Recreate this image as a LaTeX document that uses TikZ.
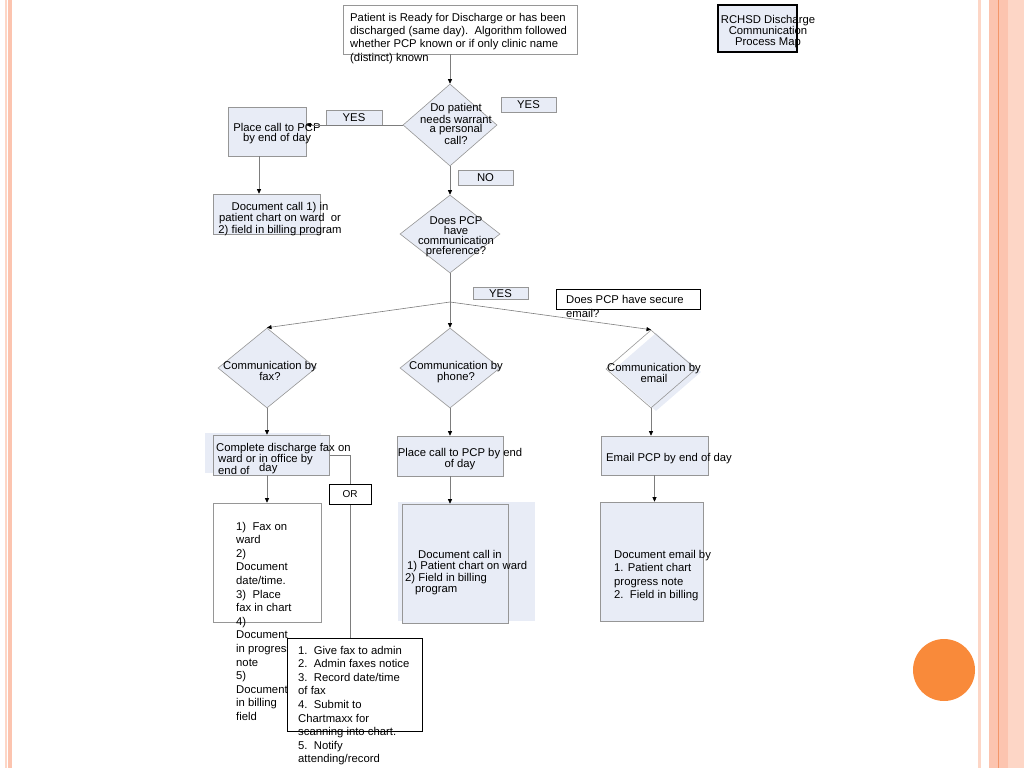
\documentclass[tikz,border=0pt]{standalone}
\usepackage{fontspec}
\setmainfont{Liberation Sans}
\usetikzlibrary{arrows.meta,shapes.geometric,backgrounds}
\definecolor{boxfill}{RGB}{232,236,246}
\definecolor{boxline}{RGB}{150,150,150}
\definecolor{flowline}{RGB}{125,125,125}
\definecolor{stripe}{RGB}{252,196,175}
\definecolor{stripelight}{RGB}{253,214,198}
\definecolor{stripeline}{RGB}{243,150,105}
\definecolor{dotorange}{RGB}{249,138,58}
\newcommand{\fsz}[1]{\fontsize{11.3}{#1}\selectfont}
\tikzstyle{arrow} = [line width=0.6pt,draw=flowline,-{Triangle[length=4.5pt,width=4pt,color=black]}]
\tikzstyle{link} = [line width=0.6pt,draw=flowline]
\tikzstyle{box} = [draw=boxline,fill=boxfill,line width=0.6pt,inner sep=0pt]
\tikzstyle{decision} = [box,diamond]
\tikzstyle{tag} = [box,font=\fsz{13.6}]
\tikzstyle{txt} = [inner sep=0pt]

\begin{document}
\begin{tikzpicture}[x=1pt,y=-1pt]
\useasboundingbox (0,0) rectangle (1024,768);
% page decoration
\fill[stripelight] (5,0) rectangle (7,768);
\fill[stripe] (8,0) rectangle (12,768);
\fill[stripelight] (978,0) rectangle (981,768);
\fill[stripe] (989,0) rectangle (1008,768);
\draw[stripeline,line width=1pt] (998.5,0) -- (998.5,768);
\fill[stripelight] (1008,0) rectangle (1024,768);
\fill[dotorange] (944,670) circle (31);

% start and title
\node[box,fill=white,minimum width=234,minimum height=49] (start) at (460,29.5) {};
\node[txt,anchor=north west,align=left,font=\fsz{13.4}] (starttxt) at (350,12.7)
  {Patient is Ready for Discharge or has been\\discharged (same day).\ \ Algorithm followed\\whether PCP known or if only clinic name\\(distinct) known};
\node[box,draw=black,line width=2.5pt,minimum width=79,minimum height=47] (map) at (757.5,28.5) {};
\node[txt,anchor=north,align=center,font=\fsz{10.5}] (maptxt) at (768,15)
  {RCHSD Discharge\\Communication\\Process Map};

% personal call
\node[decision,minimum width=94,minimum height=82] (q1) at (450,125) {};
\node[txt,anchor=north,align=center,font=\fsz{9.5}] (q1txt) at (456,103.2)
  {Do patient\\needs warrant\\a personal\\call?};
\node[tag,minimum width=55,minimum height=15] (yes1) at (528.5,104.5) {YES};
\node[tag,minimum width=56,minimum height=15] (yes2) at (354,117.5) {YES};
\node[box,minimum width=78,minimum height=49] (pcall) at (267,131.5) {};
\node[txt,anchor=north,align=center,font=\fsz{10}] (pcalltxt) at (277,123.4)
  {Place call to PCP\\by end of day};
\node[box,minimum width=107,minimum height=40] (doccall) at (266.5,214) {};
\node[txt,anchor=north,align=center,font=\fsz{10}] (doccalltxt) at (280,201.7)
  {Document call 1) in\\patient chart on ward\ \ or\\2) field in billing program};
\node[tag,minimum width=55,minimum height=15] (no) at (485.5,177.5) {NO};

% preference
\node[decision,minimum width=100,minimum height=78] (q2) at (450,234) {};
\node[txt,anchor=north,align=center,font=\fsz{10}] (q2txt) at (456,216.7)
  {Does PCP\\have\\communication\\preference?};
\node[tag,minimum width=55,minimum height=12] (yes3) at (500.5,293.5) {YES};
\node[box,draw=black,fill=white,minimum width=144,minimum height=20] (secure) at (628,299) {};
\node[txt,anchor=north west,align=left,font=\fsz{14}] (securetxt) at (566,294.7)
  {Does PCP have secure\\email?};
\coordinate (br) at (450,302);

% three ways
\node[decision,minimum width=98,minimum height=80] (qfax) at (267,368) {};
\node[txt,anchor=north,align=center,font=\fsz{10}] (qfaxtxt) at (270,360.7)
  {Communication by\\fax?};
\node[decision,minimum width=100,minimum height=80] (qphone) at (450,368) {};
\node[txt,anchor=north,align=center,font=\fsz{10}] (qphonetxt) at (456,360.7)
  {Communication by\\phone?};
\node[diamond,fill=boxfill,inner sep=0pt,minimum width=90,minimum height=78] (qmailshade) at (656,372) {};
\node[decision,fill=none,minimum width=90,minimum height=78] (qmail) at (651,369) {};
\node[txt,anchor=north,align=center,font=\fsz{8.5}] (qmailtxt) at (654,362.7)
  {Communication by\\email};

% fax column
\fill[boxfill] (205,433) rectangle (321,473);
\node[box,minimum width=116,minimum height=40] (faxbox) at (271,455) {};
\node[txt,anchor=north west,align=left,font=\fsz{10.5}] (faxboxtxt) at (216,442.7)
  {Complete discharge fax on\\\hspace*{2pt}ward or in office by\\\hspace*{2pt}end of};
\node[txt,anchor=base west,font=\fsz{10}] (faxday) at (259,471) {day};
\node[box,fill=white,minimum width=108,minimum height=119] (faxlist) at (267,562.5) {};
\node[txt,anchor=north west,align=left,font=\fsz{13.6}] (faxlisttxt) at (236,521.7)
  {1)\ \ Fax on\\ward\\2)\\Document\\date/time.\\3)\ \ Place\\fax in chart\\4)\\Document\\in progress\\note\\5)\\Document\\in billing\\field};
\node[box,draw=black,fill=white,minimum width=42,minimum height=20] (orbox) at (350,494) {OR};
\node[box,draw=black,fill=white,minimum width=135,minimum height=93] (faxsteps) at (354.5,684.5) {};
\node[txt,anchor=north west,align=left,font=\fsz{13.6}] (faxstepstxt) at (298,645.7)
  {1.\ \ Give fax to admin\\2.\ \ Admin faxes notice\\3.\ \ Record date/time\\of fax\\4.\ \ Submit to\\Chartmaxx for\\scanning into chart.\\5.\ \ Notify\\attending/record};

% phone column
\node[box,minimum width=106,minimum height=40] (pcall2) at (450,456) {};
\node[txt,anchor=north,align=center,font=\fsz{11}] (pcall2txt) at (460,447.7)
  {Place call to PCP by end\\of day};
\fill[boxfill] (398,502) rectangle (535,621);
\node[box,minimum width=106,minimum height=119] (doccall2) at (455,563.5) {};
\node[txt,anchor=north west,align=left,font=\fsz{11.5}] (doccall2txt) at (405,549.7)
  {\hspace*{13pt}Document call in\\\hspace*{2pt}1) Patient chart on ward\\2) Field in billing\\\hspace*{10pt}program};

% email column
\node[box,minimum width=107,minimum height=39] (mailbox) at (654.5,455.5) {};
\node[txt,anchor=base west,font=\fsz{13.6}] (mailboxtxt) at (606,461) {Email PCP by end of day};
\node[box,minimum width=103,minimum height=119] (maildoc) at (651.5,561.5) {};
\node[txt,anchor=north west,align=left,font=\fsz{13.6}] (maildoctxt) at (614,549.7)
  {Document email by\\1. Patient chart\\progress note\\2.\ \ Field in billing};

% connectors
\draw[arrow] (q1.north |- start.south) -- (q1.north);
\draw[arrow] (q1.west) -- (q1.west -| pcall.east);
\coordinate (pcalldown) at ([xshift=-8pt]pcall.south);
\draw[arrow] (pcalldown) -- (pcalldown |- doccall.north);
\draw[arrow] (q1.south) -- (q2.north);
\draw[arrow] (q2.south) -- (qphone.north);
\draw[arrow] (br) -- (qfax.north);
\draw[arrow] (br) -- (qmail.north);
\draw[arrow] (qfax.south) -- (qfax.south |- faxbox.north);
\draw[arrow] (faxlist.north |- faxbox.south) -- (faxlist.north);
\begin{scope}[on background layer]
\draw[link] (faxbox.east) -| (orbox.center |- faxsteps.north);
\end{scope}
\draw[arrow] (qphone.south) -- (pcall2.north);
\draw[arrow] (pcall2.south) -- (pcall2.south |- doccall2.north);
\draw[arrow] (qmail.south) -- (qmail.south |- mailbox.north);
\draw[arrow] (mailbox.south) -- (mailbox.south |- maildoc.north);
\end{tikzpicture}
\end{document}
